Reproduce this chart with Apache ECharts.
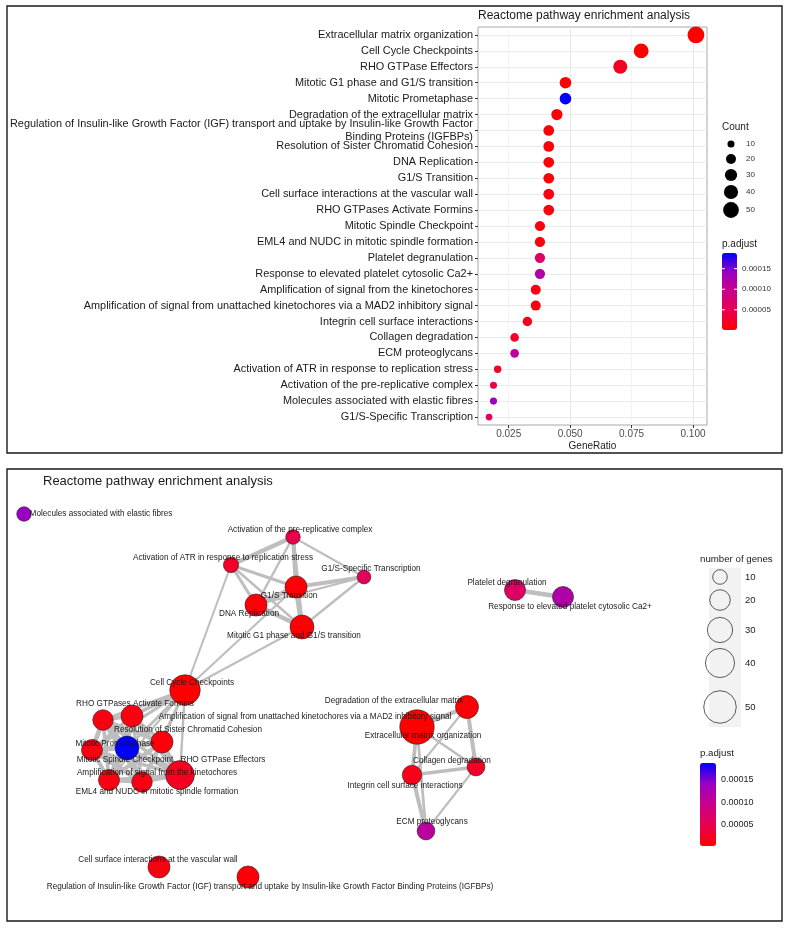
<!DOCTYPE html>
<html>
<head>
<meta charset="utf-8">
<title>Reactome pathway enrichment analysis</title>
<script src="https://cdn.jsdelivr.net/npm/echarts@6/dist/echarts.min.js"></script>
<style>
  html, body { margin: 0; padding: 0; background: #fff; }
  #chart { width: 789px; height: 929px; }
</style>
</head>
<body>
<div id="chart"></div>
<script>
// enriched pathways, in dot plot order (top to bottom)
const pathways = [
  'Extracellular matrix organization',
  'Cell Cycle Checkpoints',
  'RHO GTPase Effectors',
  'Mitotic G1 phase and G1/S transition',
  'Mitotic Prometaphase',
  'Degradation of the extracellular matrix',
  'Regulation of Insulin-like Growth Factor (IGF) transport and uptake by Insulin-like Growth Factor Binding Proteins (IGFBPs)',
  'Resolution of Sister Chromatid Cohesion',
  'DNA Replication',
  'G1/S Transition',
  'Cell surface interactions at the vascular wall',
  'RHO GTPases Activate Formins',
  'Mitotic Spindle Checkpoint',
  'EML4 and NUDC in mitotic spindle formation',
  'Platelet degranulation',
  'Response to elevated platelet cytosolic Ca2+',
  'Amplification of signal from the kinetochores',
  'Amplification of signal from unattached kinetochores via a MAD2 inhibitory signal',
  'Integrin cell surface interactions',
  'Collagen degradation',
  'ECM proteoglycans',
  'Activation of ATR in response to replication stress',
  'Activation of the pre-replicative complex',
  'Molecules associated with elastic fibres',
  'G1/S-Specific Transcription'
];
const geneRatio = [0.1012, 0.0789, 0.0704, 0.0481, 0.0481, 0.0446, 0.0413, 0.0413, 0.0413, 0.0413,
  0.0413, 0.0413, 0.0377, 0.0377, 0.0377, 0.0377, 0.0360, 0.0360, 0.0326, 0.0274,
  0.0274, 0.0205, 0.0188, 0.0188, 0.0170];
const geneCount = [56, 44, 39, 27, 27, 25, 23, 23, 23, 23, 23, 23, 21, 21, 21, 21, 20, 20, 18, 15, 15, 11, 10, 10, 9];
const pAdjust = [1.0e-6, 2.0e-6, 2.0e-5, 3.0e-6, 1.88e-4, 4.0e-6, 5.0e-6, 6.0e-6, 5.0e-6, 5.0e-6,
  9.0e-6, 9.0e-6, 1.0e-5, 1.0e-5, 6.5e-5, 1.2e-4, 1.2e-5, 1.2e-5, 1.5e-5, 2.5e-5,
  1.1e-4, 2.5e-5, 4.5e-5, 1.4e-4, 5.5e-5];

const xTicks = [0.025, 0.05, 0.075, 0.1];
const colorTicks = [0.00005, 0.0001, 0.00015];
const sizeBreaks = [10, 20, 30, 40, 50];

// enrichment map: node layout (same order as pathways) and similarity edges [source, target, similarity]
const layoutX = [417, 185, 180, 302, 127, 467, 248, 162, 256, 296, 159, 132, 92, 109, 515, 563, 142, 103, 412, 476, 426, 231, 293, 24, 364];
const layoutY = [727, 690, 775, 627, 748, 707, 877, 742, 605, 587, 867, 716, 750, 780, 590, 597, 782, 720, 775, 767, 831, 565, 537, 514, 577];
const edges = [
  [22, 21, 0.55], [22, 9, 0.5], [22, 3, 0.45], [22, 8, 0.25], [22, 24, 0.2],
  [21, 9, 0.35], [21, 8, 0.35], [21, 3, 0.25], [21, 1, 0.2],
  [24, 9, 0.5], [24, 3, 0.25], [24, 8, 0.2],
  [9, 8, 0.6], [9, 3, 0.65], [8, 3, 0.55], [1, 9, 0.2], [1, 3, 0.2],
  [1, 11, 0.45], [1, 17, 0.35], [1, 7, 0.3], [1, 4, 0.3], [1, 12, 0.35], [1, 2, 0.25], [1, 16, 0.3], [1, 13, 0.2],
  [11, 17, 0.45], [11, 7, 0.4], [11, 4, 0.5], [11, 12, 0.4], [11, 2, 0.55], [11, 16, 0.4], [11, 13, 0.45],
  [17, 7, 0.5], [17, 4, 0.55], [17, 12, 0.6], [17, 2, 0.4], [17, 16, 0.65], [17, 13, 0.45],
  [7, 4, 0.55], [7, 12, 0.5], [7, 2, 0.45], [7, 16, 0.5], [7, 13, 0.5],
  [4, 12, 0.6], [4, 2, 0.45], [4, 16, 0.55], [4, 13, 0.6],
  [12, 2, 0.4], [12, 16, 0.65], [12, 13, 0.5],
  [2, 16, 0.4], [2, 13, 0.45], [16, 13, 0.5],
  [0, 5, 0.55], [5, 19, 0.5], [5, 18, 0.2], [0, 19, 0.25], [0, 18, 0.45], [0, 20, 0.3],
  [19, 18, 0.45], [19, 20, 0.2], [18, 20, 0.5],
  [14, 15, 0.6]
];

// label nudges for the map (ggrepel-like placement)
const labelShift = [[6, 9], [7, -7], [43, -15], [-8, 9], [-12, -4], [-73, -6], [22, 10], [26, -12], [-7, 9], [-7, 9],
  [-1, -7], [3, -12], [33, 10], [48, 12], [-8, -7], [7, 10], [15, -9], [202, -3], [-7, 11], [-24, -6],
  [6, -9], [-8, -7], [7, -7], [77, 0], [7, -8]];

const FONT = '"Liberation Sans", Arial, sans-serif';
const padColors = ['#FF0000', '#E80050', '#CA0089', '#9A00C2', '#0000FF'];
const pMin = Math.min(...pAdjust);
const pMax = Math.max(...pAdjust);

const dotSize = (c) => Math.sqrt(5 * c);        // diameter in the dot plot
const nodeRadius = (c) => Math.sqrt(5.3 * c);   // radius in the map
const edgeWidth = (w) => 0.8 + 6.5 * w;

function wrapLabel(s, width) {
  if (s.length <= width) return s;
  const cut = s.lastIndexOf(' ', width);
  return s.slice(0, cut) + '\n' + s.slice(cut + 1);
}

const minX = Math.min(...layoutX), maxX = Math.max(...layoutX);
const minY = Math.min(...layoutY), maxY = Math.max(...layoutY);

// legends (drawn as graphics)
const topBar = { x: 722, y: 253, w: 15, h: 77 };
const botBar = { x: 700, y: 763, w: 16, h: 83 };
const countKeyY = [144, 159, 175, 192, 210];
const geneKeyY = [577, 600, 630, 663, 707];
const barY = (bar, v) => bar.y + bar.h - (v - pMin) / (pMax - pMin) * bar.h;

const graphics = [
  { type: 'rect', shape: { x: 7, y: 6, width: 775, height: 447 }, style: { fill: 'none', stroke: '#1a1a1a', lineWidth: 1.4 }, silent: true },
  { type: 'rect', shape: { x: 7, y: 469, width: 775, height: 452 }, style: { fill: 'none', stroke: '#1a1a1a', lineWidth: 1.4 }, silent: true },
  { type: 'text', x: 722, y: 127, style: { text: 'Count', font: '10px ' + FONT, fill: '#1a1a1a', verticalAlign: 'middle' } },
  { type: 'text', x: 722, y: 244, style: { text: 'p.adjust', font: '10px ' + FONT, fill: '#1a1a1a', verticalAlign: 'middle' } },
  { type: 'text', x: 700, y: 559, style: { text: 'number of genes', font: '9.7px ' + FONT, fill: '#1a1a1a', verticalAlign: 'middle' } },
  { type: 'rect', shape: { x: 709, y: 568, width: 32, height: 159 }, style: { fill: '#f2f2f2' }, silent: true },
  { type: 'text', x: 700, y: 753, style: { text: 'p.adjust', font: '9.7px ' + FONT, fill: '#1a1a1a', verticalAlign: 'middle' } }
];
sizeBreaks.forEach((c, i) => {
  graphics.push({ type: 'circle', shape: { cx: 731, cy: countKeyY[i], r: dotSize(c) / 2 }, style: { fill: '#000' } });
  graphics.push({ type: 'text', x: 746, y: countKeyY[i], style: { text: String(c), font: '8px ' + FONT, fill: '#333', verticalAlign: 'middle' } });
  graphics.push({ type: 'circle', shape: { cx: 720, cy: geneKeyY[i], r: nodeRadius(c) }, style: { fill: 'none', stroke: '#333', lineWidth: 0.8 }, z: 10 });
  graphics.push({ type: 'text', x: 745, y: geneKeyY[i], style: { text: String(c), font: '9.5px ' + FONT, fill: '#1a1a1a', verticalAlign: 'middle' } });
});
colorTicks.forEach((v) => {
  const label = v.toFixed(5);
  const ty = barY(topBar, v);
  graphics.push({ type: 'text', x: 742, y: ty, style: { text: label, font: '8px ' + FONT, fill: '#333', verticalAlign: 'middle' } });
  graphics.push({ type: 'line', shape: { x1: topBar.x, y1: ty, x2: topBar.x + 3, y2: ty }, style: { stroke: '#fff', lineWidth: 1 }, z: 10 });
  graphics.push({ type: 'line', shape: { x1: topBar.x + topBar.w - 3, y1: ty, x2: topBar.x + topBar.w, y2: ty }, style: { stroke: '#fff', lineWidth: 1 }, z: 10 });
  const by = barY(botBar, v);
  graphics.push({ type: 'text', x: 721, y: by, style: { text: label, font: '9px ' + FONT, fill: '#1a1a1a', verticalAlign: 'middle' } });
});

const chart = echarts.init(document.getElementById('chart'), null, { renderer: 'canvas' });
chart.setOption({
  animation: false,
  backgroundColor: '#fff',
  textStyle: { fontFamily: FONT },
  title: [
    { text: 'Reactome pathway enrichment analysis', left: 478, top: 10, padding: 0,
      textStyle: { fontSize: 12, fontWeight: 'normal', color: '#1a1a1a', fontFamily: FONT } },
    { text: 'Reactome pathway enrichment analysis', left: 43, top: 475, padding: 0,
      textStyle: { fontSize: 13, fontWeight: 'normal', color: '#1a1a1a', fontFamily: FONT } }
  ],
  grid: { left: 478, top: 27, width: 229, height: 398, show: true, borderColor: '#a8a8a8', borderWidth: 1, backgroundColor: 'transparent' },
  xAxis: {
    type: 'value', min: 0.0125, max: 0.1057, interval: 0.0125,
    name: 'GeneRatio', nameLocation: 'middle', nameGap: 16,
    nameTextStyle: { fontSize: 10, color: '#1a1a1a' },
    axisLine: { show: false },
    axisTick: { show: true, customValues: xTicks, length: 3, lineStyle: { color: '#333' } },
    axisLabel: { customValues: xTicks, formatter: (v) => v.toFixed(3), fontSize: 10, color: '#4d4d4d', margin: 4 },
    splitLine: { show: true, lineStyle: { color: ['#f4f4f4', '#e8e8e8'], width: 1 } }
  },
  yAxis: {
    type: 'category', data: pathways, inverse: true,
    axisLine: { show: false },
    axisTick: { show: true, alignWithLabel: true, length: 3, lineStyle: { color: '#333' } },
    axisLabel: { formatter: (s) => wrapLabel(s, 100), fontSize: 10.9, lineHeight: 13, color: '#1a1a1a', margin: 5 },
    splitLine: { show: true, alignWithLabel: true, lineStyle: { color: '#ebebeb', width: 1 } }
  },
  visualMap: [
    { type: 'continuous', seriesIndex: 0, dimension: 2, min: pMin, max: pMax,
      inRange: { color: padColors }, left: topBar.x, top: topBar.y, itemWidth: topBar.w, itemHeight: topBar.h,
      padding: 0, calculable: false, hoverLink: false },
    { type: 'continuous', seriesIndex: 1, min: pMin, max: pMax,
      inRange: { color: padColors }, left: botBar.x, top: botBar.y, itemWidth: botBar.w, itemHeight: botBar.h,
      padding: 0, calculable: false, hoverLink: false }
  ],
  series: [
    {
      type: 'scatter',
      data: pathways.map((name, i) => [geneRatio[i], name, pAdjust[i], geneCount[i]]),
      encode: { x: 0, y: 1 },
      symbol: 'circle',
      symbolSize: (d) => dotSize(d[3]),
      itemStyle: { opacity: 1 },
      silent: true
    },
    {
      type: 'graph', layout: 'none', roam: false, silent: true,
      left: minX, top: minY, width: maxX - minX, height: maxY - minY,
      symbol: 'circle',
      data: pathways.map((name, i) => ({
        name: name, x: layoutX[i], y: layoutY[i], value: pAdjust[i],
        symbolSize: 2 * nodeRadius(geneCount[i]),
        label: { offset: labelShift[i] }
      })),
      links: edges.map(([s, t, w]) => ({ source: s, target: t, value: w, lineStyle: { width: edgeWidth(w) } })),
      itemStyle: { borderColor: '#262626', borderWidth: 0.6 },
      lineStyle: { color: '#bebebe', opacity: 1, curveness: 0 },
      label: { show: true, position: 'inside', fontSize: 8.2, color: '#1a1a1a', fontFamily: FONT }
    }
  ],
  graphic: graphics
});
</script>
</body>
</html>
